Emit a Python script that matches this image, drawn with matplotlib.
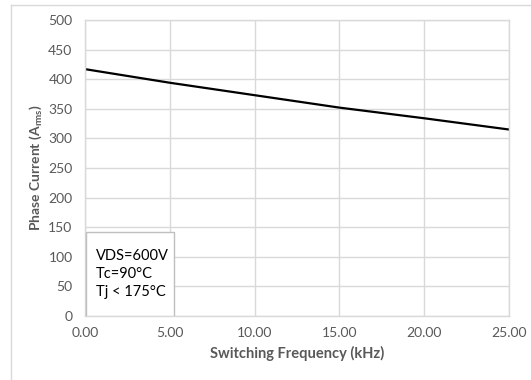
import matplotlib
matplotlib.use("Agg")
import matplotlib.pyplot as plt
from matplotlib.lines import Line2D
from matplotlib.patches import Rectangle

# Derated phase current vs switching frequency
freq_khz = [0, 5, 10, 15, 20, 25]
phase_current = [417, 394, 373, 352, 334, 315]

x_ticks = [0, 5, 10, 15, 20, 25]
y_ticks = [0, 50, 100, 150, 200, 250, 300, 350, 400, 450, 500]
conditions = ["VDS=600V", "Tc=90°C", "Tj < 175°C"]

plt.rcParams["font.family"] = ["Lato", "DejaVu Sans"]

GRID = "#d9d9d9"
LABEL = "#595959"

fig = plt.figure(figsize=(5.31, 3.80), dpi=100)
ax = fig.add_axes([85 / 531, 1 - 316 / 380, 424 / 531, 296 / 380])

ax.plot(freq_khz, phase_current, color="black", lw=1.6, solid_capstyle="butt")

ax.set_xlim(0, 25)
ax.set_ylim(0, 500)
ax.set_xticks(x_ticks)
ax.set_xticklabels([f"{v:.2f}" for v in x_ticks])
ax.set_yticks(y_ticks)
ax.grid(True, color=GRID, lw=1)
ax.set_axisbelow(True)
for spine in ax.spines.values():
    spine.set_color(GRID)
    spine.set_linewidth(1)
ax.tick_params(length=0, labelsize=10, labelcolor=LABEL)
ax.tick_params(axis="y", pad=9)
ax.tick_params(axis="x", pad=8)

ax.set_xlabel("Switching Frequency (kHz)", fontsize=10.5, fontweight="bold",
              color=LABEL, labelpad=5)
ax.set_ylabel(r"Phase Current (A$_{\mathregular{rms}}$)", fontsize=10,
              fontweight="bold", color=LABEL, labelpad=3)

# operating conditions box in the lower-left corner
box = Rectangle((0.002, 0.0), 88 / 424, 84 / 296, transform=ax.transAxes,
                facecolor="white", edgecolor="#bfbfbf", lw=1, zorder=4)
ax.add_patch(box)
ax.text(11 / 424, 42 / 296, "\n".join(conditions), transform=ax.transAxes,
        fontsize=10.5, color="black", va="center", ha="left",
        linespacing=1.32, zorder=5)

# chart frame (left and top edges)
fig.add_artist(Line2D([11 / 531, 11 / 531], [0, 1 - 5 / 380],
                      transform=fig.transFigure, color=GRID, lw=1))
fig.add_artist(Line2D([11 / 531, 1], [1 - 5 / 380, 1 - 5 / 380],
                      transform=fig.transFigure, color=GRID, lw=1))

fig.savefig("out.png", dpi=100, facecolor="white")
